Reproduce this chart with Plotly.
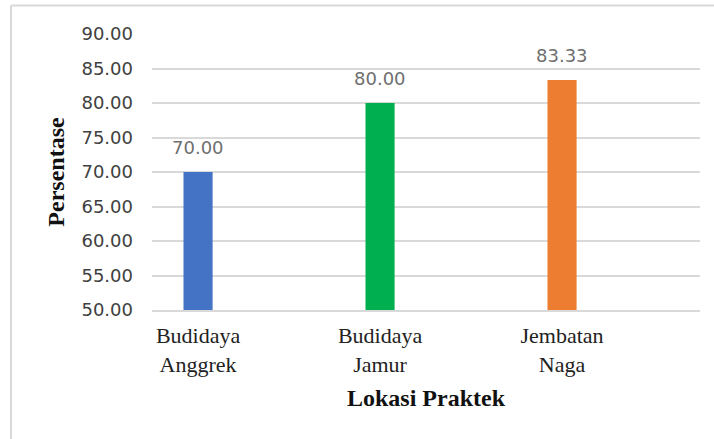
import plotly.graph_objects as go

categories = ["Budidaya<br>Anggrek", "Budidaya<br>Jamur", "Jembatan<br>Naga"]
values = [70.00, 80.00, 83.33]
colors = ["#4472C4", "#00B050", "#ED7D31"]
tick_vals = [50, 55, 60, 65, 70, 75, 80, 85, 90]

fig = go.Figure()
fig.add_trace(go.Bar(
    x=categories, y=values, marker=dict(color=colors, line=dict(width=0)),
    width=0.16, hoverinfo="skip", showlegend=False,
))

for c, v in zip(categories, values):
    fig.add_annotation(
        x=c, y=v, text=f"{v:.2f}", showarrow=False, yanchor="bottom",
        yshift=12, font=dict(family="DejaVu Sans", size=18, color="#6f6f6f"),
    )

fig.update_layout(
    width=714, height=439,
    margin=dict(l=152, r=14, t=34, b=129),
    paper_bgcolor="white", plot_bgcolor="white",
    xaxis=dict(
        range=[-0.253, 2.758], showgrid=False,
        showline=True, linecolor="#d9d9d9", linewidth=2,
        tickfont=dict(family="Liberation Serif", size=22, color="#222222"),
        ticks="", ticklabelstandoff=5,
        title=dict(text="<b>Lokasi Praktek</b>", standoff=13,
                   font=dict(family="Liberation Serif", size=24, color="#111111")),
    ),
    yaxis=dict(
        range=[50, 90], tickvals=tick_vals,
        tickformat=".2f", showgrid=True, gridcolor="#d9d9d9", gridwidth=1.5,
        zeroline=False, showline=False, ticks="", ticklabelstandoff=18,
        tickfont=dict(family="DejaVu Sans", size=18, color="#404040"),
        title=dict(text="<b>Persentase</b>", standoff=10,
                   font=dict(family="Liberation Serif", size=24, color="#111111")),
    ),
    shapes=[
        dict(type="line", xref="paper", yref="paper", x0=-0.2573, x1=1.05,
             y0=1.103, y1=1.103, line=dict(color="#d9d9d9", width=2)),
        dict(type="line", xref="paper", yref="paper", x0=-0.2573, x1=-0.2573,
             y0=1.103, y1=-0.6, line=dict(color="#d9d9d9", width=2)),
    ],
)

fig.write_html("out.html", config={"displayModeBar": False},
               post_script="document.body.style.margin='0';")
